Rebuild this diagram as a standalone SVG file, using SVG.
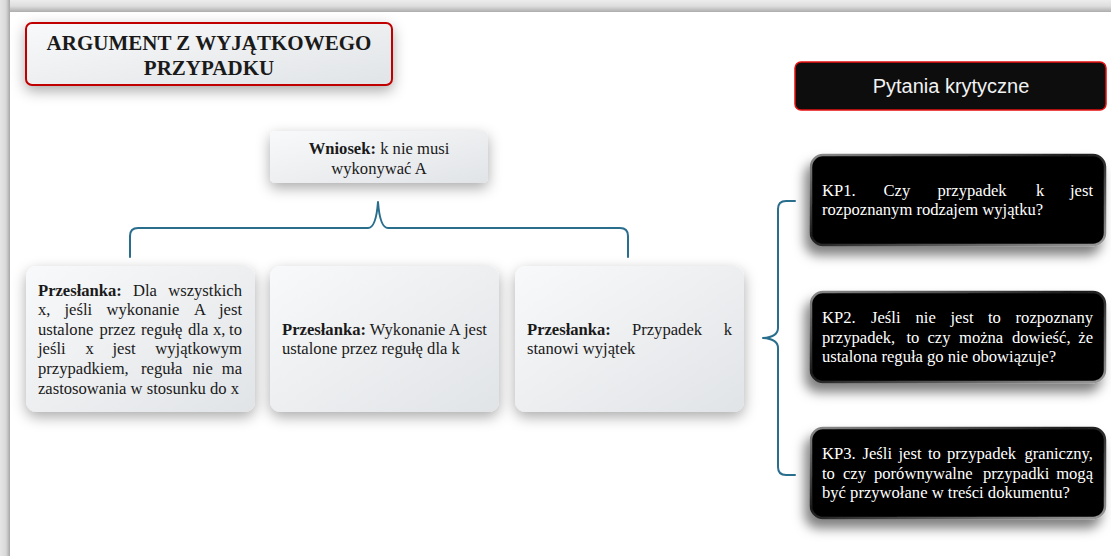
<svg xmlns="http://www.w3.org/2000/svg" width="1111" height="556" viewBox="0 0 1111 556">
<defs>
<style>
.t{font-family:"Liberation Serif","Times New Roman",serif;font-size:16.6px;fill:#1a1a1a}
.b{font-weight:bold}
.w{fill:#ffffff}
.e{text-anchor:end}
.c{text-anchor:middle}
.lbox{fill:url(#lg);filter:url(#sh)}
.kbox{fill:#000;stroke:url(#rim);stroke-width:2.5;filter:url(#shk)}
.br{fill:none;stroke:#2a6e8e;stroke-width:2;stroke-linejoin:round;stroke-linecap:round}
</style>
<linearGradient id="lg" x1="0" y1="0" x2="1" y2="1"><stop offset="0" stop-color="#f8f9fa"/><stop offset="1" stop-color="#e1e4e7"/></linearGradient>
<linearGradient id="rim" x1="0" y1="0" x2="1" y2="1"><stop offset="0" stop-color="#8a8a8a"/><stop offset="0.45" stop-color="#1a1a1a"/><stop offset="1" stop-color="#9a9a9a"/></linearGradient>
<linearGradient id="topband" x1="0" y1="0" x2="0" y2="1"><stop offset="0" stop-color="#ececec"/><stop offset="0.5" stop-color="#dedede"/><stop offset="1" stop-color="#adadad"/></linearGradient>
<linearGradient id="leftband" x1="0" y1="0" x2="1" y2="0"><stop offset="0" stop-color="#e6e6e6"/><stop offset="0.6" stop-color="#d8d8d8"/><stop offset="1" stop-color="#a6a6a6"/></linearGradient>
<filter id="sh" x="-20%" y="-30%" width="140%" height="170%"><feDropShadow dx="0" dy="5" stdDeviation="7" flood-color="#000" flood-opacity="0.33"/></filter>
<filter id="shk" x="-20%" y="-30%" width="140%" height="180%"><feDropShadow dx="-5" dy="9" stdDeviation="6" flood-color="#000" flood-opacity="0.5"/></filter>
</defs>

<rect x="0" y="0" width="1111" height="556" fill="#ffffff"/>
<rect x="0" y="0" width="1111" height="12" fill="url(#topband)"/>
<rect x="0" y="0" width="10" height="556" fill="url(#leftband)"/>

<g id="title">
<rect x="26" y="23" width="366" height="62" rx="6" fill="url(#lg)" stroke="#c00000" stroke-width="2" filter="url(#sh)"/>
<text class="t b c" x="209" y="50" style="font-size:21px">ARGUMENT Z WYJĄTKOWEGO</text>
<text class="t b c" x="209" y="75" style="font-size:21px">PRZYPADKU</text>
</g>

<g id="pytania">
<rect x="795" y="62" width="311" height="48" rx="6" fill="#0d0d0d" stroke="#e81010" stroke-width="1.5"/>
<text x="951" y="93" text-anchor="middle" style="font-family:'Liberation Sans',Arial,sans-serif;font-size:20px;fill:#f2f2f2">Pytania krytyczne</text>
</g>

<g id="connectors">
<path class="br" d="M130,257 V236 Q130,228 138,228 H368 Q376,228 378,202 Q380,228 388,228 H620 Q628,228 628,236 V257"/>
<path class="br" d="M795,201 H786 Q778,201 778,209 V328 Q778,337 763,338 Q778,339 778,348 V467 Q778,475 786,475 H795"/>
</g>

<g id="wniosek">
<rect class="lbox" x="270" y="131" width="218" height="52" rx="5"/>
<text class="t c" x="379" y="154"><tspan class="b">Wniosek:</tspan> k nie musi</text>
<text class="t c" x="379" y="174">wykonywać A</text>
</g>

<g id="przeslanka1">
<rect class="lbox" x="26" y="266" width="229" height="146" rx="11"/>
<text class="t" y="295.5"><tspan class="b" x="38">Przesłanka:</tspan><tspan x="133">Dla</tspan></text>
<text class="t e" x="242" y="295.5">wszystkich</text>
<text class="t" y="315.1"><tspan x="38">x,</tspan><tspan x="64.5">jeśli</tspan><tspan x="106.5">wykonanie</tspan><tspan x="194">A</tspan></text>
<text class="t e" x="242" y="315.1">jest</text>
<text class="t" y="334.7"><tspan x="38">ustalone</tspan><tspan x="99.5">przez</tspan><tspan x="141">regułę</tspan><tspan x="188">dla</tspan><tspan x="213">x,</tspan></text>
<text class="t e" x="242" y="334.7">to</text>
<text class="t" y="354.3"><tspan x="38">jeśli</tspan><tspan x="85.5">x</tspan><tspan x="112.5">jest</tspan></text>
<text class="t e" x="242" y="354.3">wyjątkowym</text>
<text class="t" y="373.9"><tspan x="38">przypadkiem,</tspan><tspan x="141">reguła</tspan><tspan x="192.5">nie</tspan></text>
<text class="t e" x="242" y="373.9">ma</text>
<text class="t" x="38" y="393.5">zastosowania w stosunku do x</text>
</g>

<g id="przeslanka2">
<rect class="lbox" x="270" y="266" width="229" height="146" rx="11"/>
<text class="t" x="282" y="334.7" textLength="205" lengthAdjust="spacingAndGlyphs"><tspan class="b">Przesłanka:</tspan> Wykonanie A jest</text>
<text class="t" x="282" y="354.3">ustalone przez regułę dla k</text>
</g>

<g id="przeslanka3">
<rect class="lbox" x="515" y="266" width="229" height="146" rx="11"/>
<text class="t" y="334.7"><tspan class="b" x="527">Przesłanka:</tspan><tspan x="632">Przypadek</tspan></text>
<text class="t e" x="732" y="334.7">k</text>
<text class="t" x="527" y="354.3">stanowi wyjątek</text>
</g>

<g id="kp1">
<rect class="kbox" x="811" y="155" width="294" height="90" rx="12"/>
<text class="t w" y="195.7"><tspan x="822">KP1.</tspan><tspan x="883.5">Czy</tspan><tspan x="937.5">przypadek</tspan><tspan x="1036">k</tspan></text>
<text class="t w e" x="1093" y="195.7">jest</text>
<text class="t w" x="822" y="215.3">rozpoznanym rodzajem wyjątku?</text>
</g>

<g id="kp2">
<rect class="kbox" x="811" y="292" width="294" height="90" rx="12"/>
<text class="t w" y="322.9"><tspan x="822">KP2.</tspan><tspan x="871">Jeśli</tspan><tspan x="915.5">nie</tspan><tspan x="950.5">jest</tspan><tspan x="988">to</tspan></text>
<text class="t w e" x="1093" y="322.9">rozpoznany</text>
<text class="t w" y="342.5"><tspan x="822">przypadek,</tspan><tspan x="906.5">to</tspan><tspan x="927.5">czy</tspan><tspan x="959">można</tspan><tspan x="1012">dowieść,</tspan></text>
<text class="t w e" x="1093" y="342.5">że</text>
<text class="t w" x="822" y="362.1">ustalona reguła go nie obowiązuje?</text>
</g>

<g id="kp3">
<rect class="kbox" x="811" y="428" width="294" height="90" rx="12"/>
<text class="t w" y="458.9"><tspan x="822">KP3.</tspan><tspan x="862.5">Jeśli</tspan><tspan x="898.5">jest</tspan><tspan x="928">to</tspan><tspan x="947">przypadek</tspan></text>
<text class="t w e" x="1093" y="458.9">graniczny,</text>
<text class="t w" y="478.5"><tspan x="822">to</tspan><tspan x="843">czy</tspan><tspan x="874">porównywalne</tspan><tspan x="983">przypadki</tspan></text>
<text class="t w e" x="1093" y="478.5">mogą</text>
<text class="t w" x="822" y="498.1">być przywołane w treści dokumentu?</text>
</g>
</svg>
